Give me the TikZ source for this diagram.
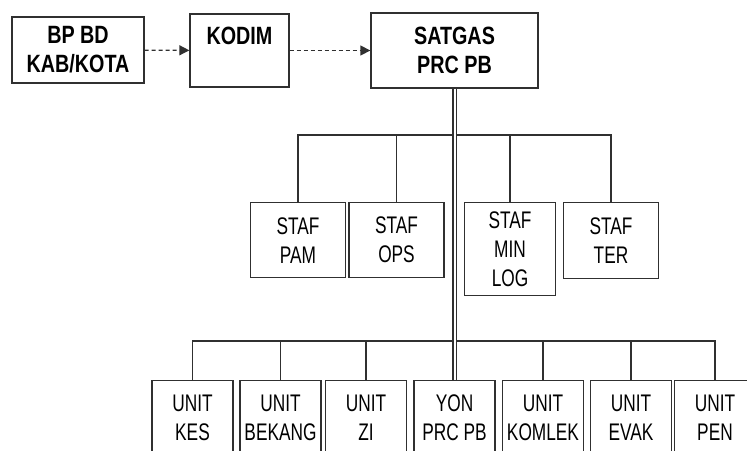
\documentclass[tikz,border=0pt]{standalone}
\usepackage{fontspec}
\setmainfont{Liberation Sans}[FakeStretch=0.72, BoldFeatures={FakeStretch=0.79}]
\usepackage{tikz}
\usetikzlibrary{positioning, arrows.meta}
\definecolor{ink}{HTML}{303030}

\begin{document}
\begin{tikzpicture}[x=1pt, y=-1pt,
  topbox/.style={draw=ink, line width=1.3pt, align=center, inner sep=0pt, font=\fontsize{25}{29}\selectfont\bfseries},
  stafbox/.style={draw=ink, line width=1.3pt, align=center, inner sep=0pt, minimum width=95pt, font=\fontsize{24}{29}\selectfont},
  unitbox/.style={draw=ink, line width=1.3pt, align=center, inner sep=0pt, minimum width=81pt, minimum height=74pt, anchor=north, font=\fontsize{24}{29}\selectfont},
  dasharrow/.style={draw=ink, line width=1.3pt, dash pattern=on 4pt off 3pt, -{Triangle[length=10pt, width=10pt]}},
  link/.style={draw=ink, line width=1.1pt}]
\useasboundingbox (0,0) rectangle (747,450);
\clip (0,0) rectangle (747,450);
\node[topbox, minimum width=132pt, minimum height=66pt] (bpbd) at (78,50) {BP BD\\KAB/KOTA};
\node[topbox, minimum width=99pt, minimum height=73pt] (kodim) at (239.5,50.5) {KODIM\\~};
\node[topbox, minimum width=167pt, minimum height=75pt] (satgas) at (454.5,50.5) {SATGAS\\PRC PB};
\draw[dasharrow] (bpbd) -- (kodim);
\draw[dasharrow] (kodim) -- (satgas);
\node[stafbox, minimum height=75pt, anchor=north] (pam) at (298,202) {STAF\\PAM};
\node[stafbox, minimum height=75pt, anchor=north] (ops) at (396.5,202) {STAF\\OPS};
\node[stafbox, minimum width=91pt, minimum height=93pt, anchor=north] (minlog) at (510,202) {STAF\\MIN\\LOG};
\node[stafbox, minimum height=76pt, anchor=north] (ter) at (611,202) {STAF\\TER};
\node[unitbox] (kes) at (192.5,380) {UNIT\\KES};
\node[unitbox] (bekang) at (280.5,380) {UNIT\\BEKANG};
\node[unitbox] (zi) at (366,380) {UNIT\\ZI};
\node[unitbox] (yon) at (454.5,380) {YON\\PRC PB};
\node[unitbox] (komlek) at (543,380) {UNIT\\KOMLEK};
\node[unitbox] (evak) at (631,380) {UNIT\\EVAK};
\node[unitbox] (pen) at (715,380) {UNIT\\PEN};
\coordinate (sbus) at (0,135);
\coordinate (ubus) at (0,341);
\draw[link] (pam.north) -- (pam.north |- sbus) -- (ter.north |- sbus) -- (ter.north);
\foreach \n in {ops, minlog}
  \draw[link] (\n.north) -- (\n.north |- sbus);
\draw[link] (kes.north) -- (kes.north |- ubus) -- (pen.north |- ubus) -- (pen.north);
\foreach \n in {bekang, zi, komlek, evak}
  \draw[link] (\n.north) -- (\n.north |- ubus);
\draw[draw=ink, line width=1.3pt, double=white, double distance=2pt] (satgas.south) -- (yon.north);
\end{tikzpicture}
\end{document}
